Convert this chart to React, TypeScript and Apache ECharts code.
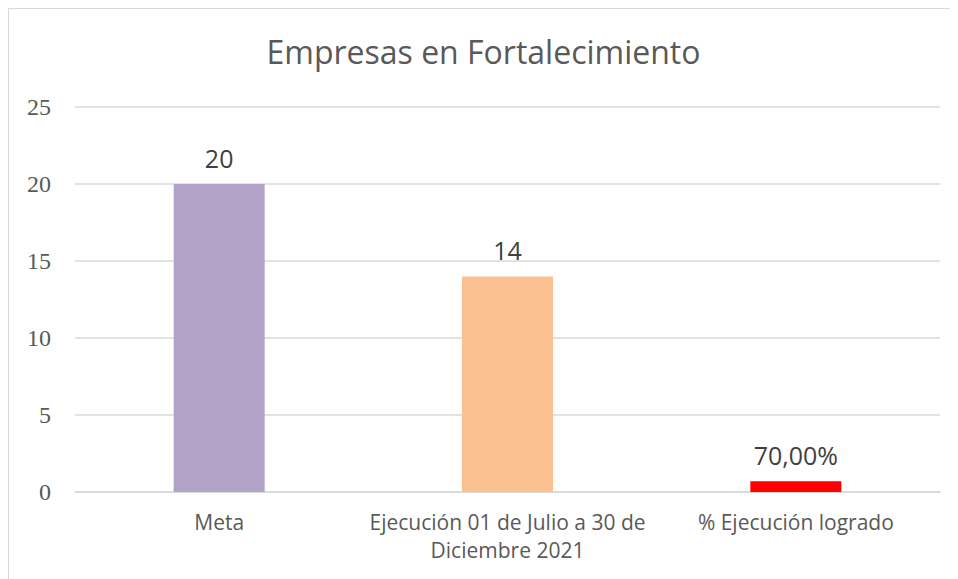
import React, { useEffect, useRef } from "react";
import * as echarts from "echarts";

const categories = ["Meta", "Ejecución 01 de Julio a 30 de\nDiciembre 2021", "% Ejecución logrado"];
const values = [20, 14, 0.7];
const valueLabels = ["20", "14", "70,00%"];
const barColors = ["#B2A2C7", "#FAC090", "#FF0000"];
const yTicks = { min: 0, max: 25, interval: 5 };

export default function App() {
  const ref = useRef<HTMLDivElement>(null);
  useEffect(() => {
    const chart = echarts.init(ref.current!, null, { renderer: "svg" });
    chart.setOption({
      animation: false,
      title: {
        text: "Empresas en Fortalecimiento",
        left: "center",
        top: 21,
        textStyle: { fontFamily: "Open Sans", fontSize: 32, fontWeight: "normal", color: "#595959" },
      },
      grid: { left: 66, right: 18, top: 98, bottom: 87 },
      xAxis: {
        type: "category",
        data: categories,
        axisLine: { show: true, lineStyle: { color: "#d9d9d9", width: 1.5 } },
        axisTick: { show: false },
        axisLabel: {
          fontFamily: "Open Sans",
          fontSize: 21,
          color: "#595959",
          margin: 16,
          lineHeight: 28,
          interval: 0,
        },
      },
      yAxis: {
        type: "value",
        min: yTicks.min,
        max: yTicks.max,
        interval: yTicks.interval,
        axisLine: { show: false },
        axisTick: { show: false },
        splitLine: { lineStyle: { color: "#d9d9d9", width: 1.5 } },
        axisLabel: { fontFamily: "Liberation Serif", fontSize: 24, color: "#595959", margin: 24 },
      },
      series: [
        {
          type: "bar",
          barWidth: 91,
          data: values.map((v, i) => ({ value: v, itemStyle: { color: barColors[i] } })),
          label: {
            show: true,
            position: "top",
            distance: 14,
            fontFamily: "Open Sans",
            fontSize: 25,
            color: "#404040",
            formatter: (p: any) => valueLabels[p.dataIndex],
          },
        },
      ],
    });
    return () => chart.dispose();
  }, []);
  return (
    <div style={{ width: 950, height: 571, borderLeft: "1px solid #d9d9d9", borderTop: "1px solid #d9d9d9", boxSizing: "border-box", position: "relative" }}>
      <div ref={ref} style={{ position: "absolute", left: 0, top: 0, width: 949, height: 570 }} />
    </div>
  );
}
